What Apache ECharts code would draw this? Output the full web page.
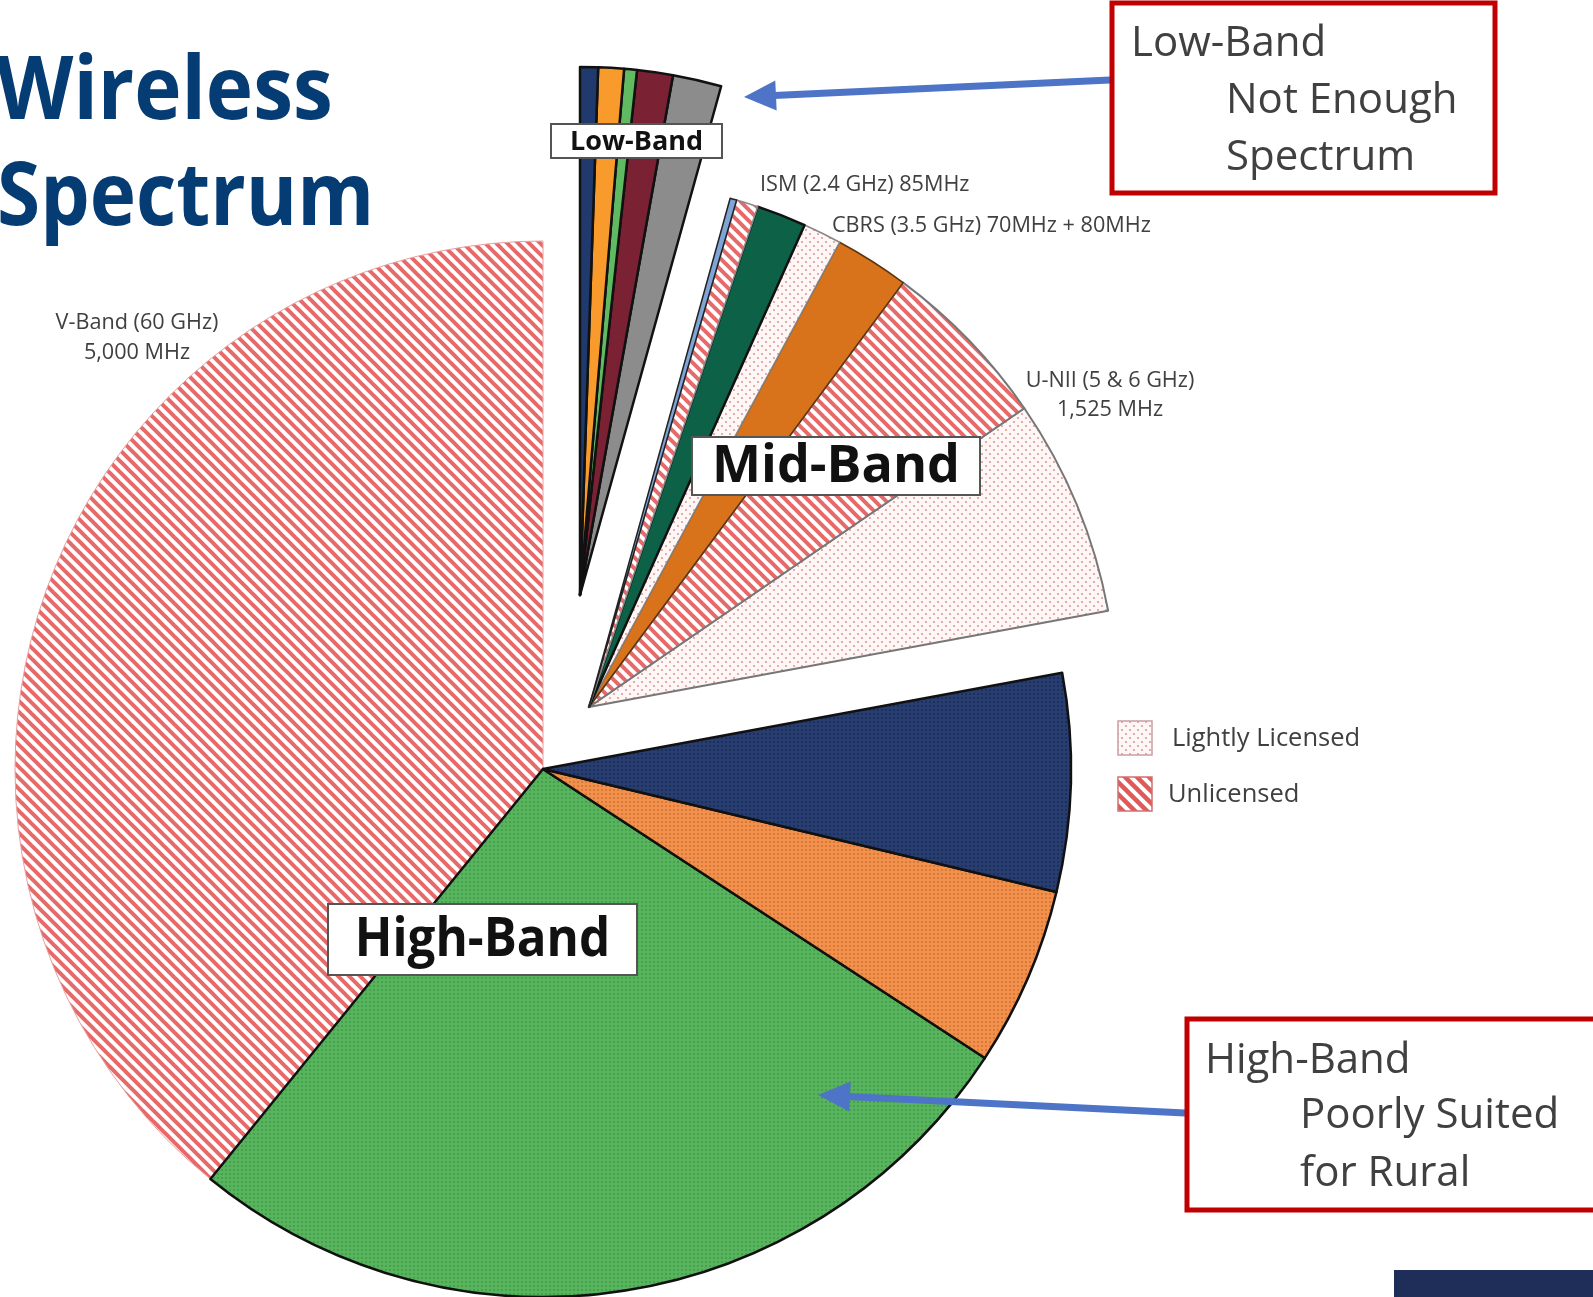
<!DOCTYPE html>
<html><head><meta charset="utf-8">
<script src="https://cdn.jsdelivr.net/npm/echarts@6/dist/echarts.min.js"></script>
<style>html,body{margin:0;padding:0;background:#fff}#c{width:1593px;height:1297px}</style>
</head><body><div id="c"></div>
<script>
// ---------- DATA ----------
const sliceNames = ['V-Band (60 GHz)', 'Upper 37/39/47 GHz', '24 GHz', '28 GHz',
  'U-NII (lightly licensed)', 'U-NII (unlicensed)', 'C-Band (3.7 GHz)', 'CBRS (3.5 GHz)',
  '2.5 GHz', 'ISM (2.4 GHz)', 'ISM (900 MHz)',
  'Low-Band E', 'Low-Band D', 'Low-Band C', 'Low-Band B', 'Low-Band A'];
const sliceValues = [5000, 3400, 700, 850, 850, 675, 290, 150, 194, 85, 26, 190, 140, 50, 100, 70];
const sliceBands = ['high','high','high','high','mid','mid','mid','mid','mid','mid','mid','low','low','low','low','low'];
const titleLines = ['Wireless', 'Spectrum'];
const bandLabels = {high: 'High-Band', mid: 'Mid-Band', low: 'Low-Band'};
const legendLabels = ['Lightly Licensed', 'Unlicensed'];
const sliceTexts = [
  ['V-Band (60 GHz)', '5,000 MHz'],
  ['ISM (2.4 GHz) 85MHz'],
  ['CBRS (3.5 GHz) 70MHz + 80MHz'],
  ['U-NII (5 & 6 GHz)', '1,525 MHz']
];
const calloutLow = ['Low-Band', 'Not Enough', 'Spectrum'];
const calloutHigh = ['High-Band', 'Poorly Suited', 'for Rural'];

// ---------- PATTERNS ----------
function hatch(size, lw, color, bg) {
  const c = document.createElement('canvas'); c.width = c.height = size;
  const g = c.getContext('2d'); g.fillStyle = bg; g.fillRect(0, 0, size, size);
  g.strokeStyle = color; g.lineWidth = lw;
  for (let k = -1; k <= 1; k++) { g.beginPath(); g.moveTo(k * size - 2, -2); g.lineTo(k * size + size + 2, size + 2); g.stroke(); }
  return {image: c, repeat: 'repeat'};
}
function dots(size, r, color, bg, stagger) {
  const c = document.createElement('canvas'); c.width = c.height = size;
  const g = c.getContext('2d'); g.fillStyle = bg; g.fillRect(0, 0, size, size);
  g.fillStyle = color;
  const pts = stagger ? [[size * 0.25, size * 0.25], [size * 0.75, size * 0.75]] : [[size / 2, size / 2]];
  pts.forEach(p => { g.beginPath(); g.arc(p[0], p[1], r, 0, Math.PI * 2); g.fill(); });
  return {image: c, repeat: 'repeat'};
}
const P = {
  unlicensed: hatch(11, 4, '#e66a6a', '#ffffff'),
  lightly: dots(8, 0.9, '#d88a8a', '#fff6f6', true),
  green: dots(4, 0.8, '#2f8a3a', '#58b45d', false),
  orange: dots(4, 0.8, '#b5602c', '#f2904c', false),
  navy: dots(4, 0.8, '#121f45', '#283d70', false)
};
const sliceStyle = {
  'V-Band (60 GHz)': {color: P.unlicensed, borderColor: '#eaa0a0', borderWidth: 1},
  'Upper 37/39/47 GHz': {color: P.green, borderColor: '#111', borderWidth: 2.5},
  '24 GHz': {color: P.orange, borderColor: '#111', borderWidth: 2.5},
  '28 GHz': {color: P.navy, borderColor: '#111', borderWidth: 2.5},
  'U-NII (lightly licensed)': {color: P.lightly, borderColor: '#777', borderWidth: 2},
  'U-NII (unlicensed)': {color: P.unlicensed, borderColor: '#777', borderWidth: 2},
  'C-Band (3.7 GHz)': {color: '#d9731b', borderColor: '#5a3410', borderWidth: 1.5},
  'CBRS (3.5 GHz)': {color: P.lightly, borderColor: '#888', borderWidth: 1.5},
  '2.5 GHz': {color: '#0d6146', borderColor: '#111', borderWidth: 2.5},
  'ISM (2.4 GHz)': {color: P.unlicensed, borderColor: '#888', borderWidth: 1.5},
  'ISM (900 MHz)': {color: '#7fa4d6', borderColor: '#222', borderWidth: 1.5},
  'Low-Band E': {color: '#8c8c8c', borderColor: '#111', borderWidth: 2.5},
  'Low-Band D': {color: '#7a2133', borderColor: '#111', borderWidth: 2.5},
  'Low-Band C': {color: '#5fba61', borderColor: '#111', borderWidth: 2.5},
  'Low-Band B': {color: '#f89a2c', borderColor: '#111', borderWidth: 2.5},
  'Low-Band A': {color: '#203a6e', borderColor: '#111', borderWidth: 2.5}
};

// ---------- LAYOUT ----------
const R = 528;
const centers = {high: [543, 769], mid: [589, 707], low: [580, 595]};

const series = ['high', 'mid', 'low'].map(band => ({
  type: 'pie', center: centers[band], radius: R, startAngle: 90, clockwise: false,
  silent: true, animation: false, avoidLabelOverlap: false, minAngle: 0,
  label: {show: false}, labelLine: {show: false}, z: 2,
  data: sliceNames.map((n, i) => ({
    name: n, value: sliceValues[i],
    itemStyle: sliceBands[i] === band ? sliceStyle[n] : {color: 'rgba(0,0,0,0)', borderWidth: 0}
  }))
}));

const FONT = '"Open Sans", "Noto Sans", sans-serif';
function txt(text, x, y, size, opts) {
  opts = opts || {};
  return {type: 'text', x, y, z: 80, scaleX: opts.sx || 1,
    style: {text, fontSize: size, fontFamily: FONT, fontWeight: opts.bold ? 'bold' : 'normal',
      fill: opts.color || '#404040', align: opts.align || 'left', verticalAlign: 'middle'}};
}
function labelBox(text, x0, y0, x1, y1, size, sx) {
  return [
    {type: 'rect', z: 70, shape: {x: x0, y: y0, width: x1 - x0, height: y1 - y0}, style: {fill: '#fff', stroke: '#555', lineWidth: 2}},
    {type: 'text', z: 80, x: (x0 + x1) / 2, y: (y0 + y1) / 2 + 1, scaleX: sx || 1,
      style: {text, fontSize: size, fontWeight: 'bold', fontFamily: FONT, fill: '#111', align: 'center', verticalAlign: 'middle'}}
  ];
}
function arrow(x1, y1, x2, y2, color, lw, hl, hw) {
  const dx = x2 - x1, dy = y2 - y1, L = Math.hypot(dx, dy), ux = dx / L, uy = dy / L, px = -uy, py = ux;
  const bx = x2 - ux * hl, by = y2 - uy * hl;
  return [
    {type: 'line', z: 60, shape: {x1, y1, x2: bx + ux * 2, y2: by + uy * 2}, style: {stroke: color, lineWidth: lw}},
    {type: 'polygon', z: 60, shape: {points: [[x2, y2], [bx + px * hw, by + py * hw], [bx - px * hw, by - py * hw]]}, style: {fill: color}}
  ];
}

const ARROW = '#4d74c6', RED = '#c00000', TITLE = '#053c73';
const g = [];
g.push(txt(titleLines[0], -4, 94, 87, {bold: true, color: TITLE, sx: 0.92}));
g.push(txt(titleLines[1], -3, 200, 87, {bold: true, color: TITLE, sx: 0.9}));
// slice annotations
const LS = 21, LSX = 1.03;
g.push(txt(sliceTexts[0][0], 137, 323, LS, {align: 'center', sx: LSX}));
g.push(txt(sliceTexts[0][1], 137, 353, LS, {align: 'center', sx: LSX}));
g.push(txt(sliceTexts[1][0], 760, 185, LS, {sx: LSX}));
g.push(txt(sliceTexts[2][0], 832, 226, LS, {sx: LSX}));
g.push(txt(sliceTexts[3][0], 1110, 381, LS, {align: 'center', sx: LSX}));
g.push(txt(sliceTexts[3][1], 1110, 410, LS, {align: 'center', sx: LSX}));
// band label boxes
g.push(...labelBox(bandLabels.low, 551, 124, 722, 158, 27));
g.push(...labelBox(bandLabels.mid, 692, 437, 980, 495, 52));
g.push(...labelBox(bandLabels.high, 328, 904, 637, 975, 53, 0.93));
// legend
g.push({type: 'rect', z: 70, shape: {x: 1118, y: 721, width: 34, height: 34}, style: {fill: P.lightly, stroke: '#c9a0a0', lineWidth: 1.5}});
g.push({type: 'rect', z: 70, shape: {x: 1118, y: 777, width: 34, height: 34}, style: {fill: hatch(12, 4.5, '#e05a5a', '#fff'), stroke: '#d07070', lineWidth: 1.5}});
g.push(txt(legendLabels[0], 1172, 739, 25.5));
g.push(txt(legendLabels[1], 1168, 795, 25.5));
// callout boxes
g.push({type: 'rect', z: 70, shape: {x: 1112, y: 3, width: 383, height: 190}, style: {fill: '#fff', stroke: RED, lineWidth: 5}});
g.push(txt(calloutLow[0], 1131, 44, 42));
g.push(txt(calloutLow[1], 1226, 101, 42));
g.push(txt(calloutLow[2], 1226, 158, 42));
g.push({type: 'rect', z: 70, shape: {x: 1187, y: 1019, width: 420, height: 191}, style: {fill: '#fff', stroke: RED, lineWidth: 5}});
g.push(txt(calloutHigh[0], 1205, 1061, 42));
g.push(txt(calloutHigh[1], 1300, 1116, 42));
g.push(txt(calloutHigh[2], 1300, 1174, 42));
// arrows
g.push(...arrow(1110, 80, 744, 97, ARROW, 7, 32, 15));
g.push(...arrow(1185, 1113, 818, 1095, ARROW, 7, 32, 15));
// corner bar
g.push({type: 'rect', z: 70, shape: {x: 1394, y: 1270, width: 200, height: 30}, style: {fill: '#1e2e58'}});

const chart = echarts.init(document.getElementById('c'), null, {renderer: 'canvas'});
chart.setOption({backgroundColor: '#ffffff', animation: false, series, graphic: {elements: g}});
</script>
</body></html>
